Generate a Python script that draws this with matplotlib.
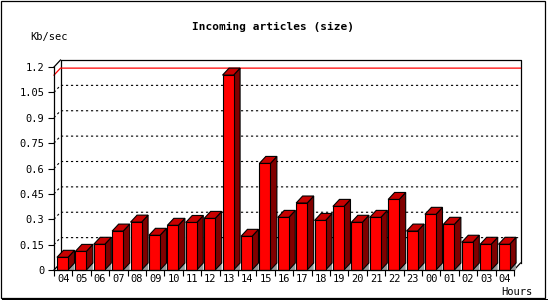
import matplotlib
matplotlib.use("Agg")
import matplotlib.pyplot as plt
from matplotlib.patches import Polygon, Rectangle

# hourly incoming article volume, Kb/sec
hours = ["04", "05", "06", "07", "08", "09", "10", "11", "12", "13", "14", "15",
         "16", "17", "18", "19", "20", "21", "22", "23", "00", "01", "02", "03", "04"]
kbsec = [0.075, 0.110, 0.152, 0.230, 0.283, 0.205, 0.264, 0.281, 0.305, 1.152,
         0.199, 0.630, 0.311, 0.396, 0.293, 0.376, 0.282, 0.311, 0.417, 0.230,
         0.329, 0.270, 0.164, 0.152, 0.152]
yticks = [0, 0.15, 0.3, 0.45, 0.6, 0.75, 0.9, 1.05, 1.2]
ytick_labels = ["0", "0.15", "0.3", "0.45", "0.6", "0.75", "0.9", "1.05", "1.2"]

W, H = 550, 300
FRONT = "#ff0000"
TOP = "#c80000"
SIDE = "#800000"
SHADOW = "#999999"
MONO = "DejaVu Sans Mono"

fig = plt.figure(figsize=(W / 100, H / 100), dpi=100)
# front plane of the plot: x 54..514 px, y 270..67 px (from top)
ax = fig.add_axes([54 / W, 1 - 270 / H, 460 / W, 203 / H])
n = len(kbsec)
ymax = yticks[-1]
ax.set_xlim(0, n)
ax.set_ylim(0, ymax)

# 3d depth offset, expressed in data units (6.5 px right, 7 px up)
ddx = 6.5 / (460 / n)
ddy = 7 / (203 / ymax)

# back wall
ax.add_patch(Rectangle((ddx, ddy), n, ymax, facecolor="white", edgecolor="none",
                       zorder=0, clip_on=False))
ax.plot([ddx, ddx, n + ddx, n + ddx], [ddy, ymax + ddy, ymax + ddy, ddy],
        color="black", lw=0.9, clip_on=False, zorder=1)
ax.plot([0, ddx], [ymax, ymax + ddy], color="black", lw=0.9, clip_on=False, zorder=1)
ax.plot([0, ddx], [0, ddy], color="black", lw=0.9, clip_on=False, zorder=1)
ax.plot([n, n + ddx], [0, ddy], color="black", lw=0.9, clip_on=False, zorder=1)

# dotted grid on the back wall
for t in yticks[1:-1]:
    ax.plot([0, ddx, n + ddx], [t, t + ddy, t + ddy], color="black", lw=0.8,
            linestyle=(0, (2, 2.5)), clip_on=False, zorder=1)

# red line at the peak value
vmax = max(kbsec)
ax.plot([0, ddx, n + ddx], [vmax, vmax + ddy, vmax + ddy], color="red", lw=0.9,
        clip_on=False, zorder=1)

bw = 0.6
for i, v in enumerate(kbsec):
    x0 = i + 0.5 - bw / 2 - 0.04
    x1 = x0 + bw
    ax.add_patch(Polygon([(x1, 0), (x1 + ddx, ddy), (x1 + ddx, 0)], closed=True,
                         facecolor=SHADOW, edgecolor="none", zorder=2, clip_on=False))
    ax.add_patch(Polygon([(x1, 0), (x1 + ddx, ddy), (x1 + ddx, v + ddy), (x1, v)],
                         closed=True, facecolor=SIDE, edgecolor="black", lw=0.8,
                         zorder=3, clip_on=False))
    ax.add_patch(Polygon([(x0, v), (x1, v), (x1 + ddx, v + ddy), (x0 + ddx, v + ddy)],
                         closed=True, facecolor=TOP, edgecolor="black", lw=0.8,
                         zorder=3, clip_on=False))
    ax.add_patch(Rectangle((x0, 0), bw, v, facecolor=FRONT, edgecolor="black",
                           lw=0.8, zorder=4, clip_on=False))

# axes: only the front-left and bottom lines
ax.set_facecolor("none")
for s in ("top", "right"):
    ax.spines[s].set_visible(False)
for s in ("left", "bottom"):
    ax.spines[s].set_linewidth(0.9)
    ax.spines[s].set_zorder(5)

ax.set_yticks(yticks)
ax.set_yticklabels(ytick_labels, fontsize=7.5, family=MONO)
ax.set_xticks(range(n + 1))
ax.set_xticklabels([])
ax.set_xticks([i + 0.5 for i in range(n)], minor=True)
ax.set_xticklabels(hours, minor=True, fontsize=7.5, family=MONO)
ax.tick_params(axis="y", direction="out", length=4, width=0.8, pad=3)
ax.tick_params(axis="x", which="major", direction="out", length=4, width=0.8)
ax.tick_params(axis="x", which="minor", length=0, pad=3)

fig.text(273.5 / W, 1 - 27 / H, "Incoming articles (size)", ha="center", va="center",
         fontsize=8, family=MONO, fontweight="bold")
fig.text(30 / W, 1 - 37 / H, "Kb/sec", ha="left", va="center", fontsize=7.5, family=MONO)
fig.text(533 / W, 1 - 292 / H, "Hours", ha="right", va="center", fontsize=7.5, family=MONO)

# image frame
fig.add_artist(Rectangle((0.5 / W, 2 / H), 544 / W, 297.5 / H, transform=fig.transFigure,
                         facecolor="none", edgecolor="black", lw=0.9))
fig.add_artist(Rectangle((2 / W, 0), 546 / W, 1.5 / H, transform=fig.transFigure,
                         facecolor="black", edgecolor="none"))

fig.savefig("out.png", dpi=100)
